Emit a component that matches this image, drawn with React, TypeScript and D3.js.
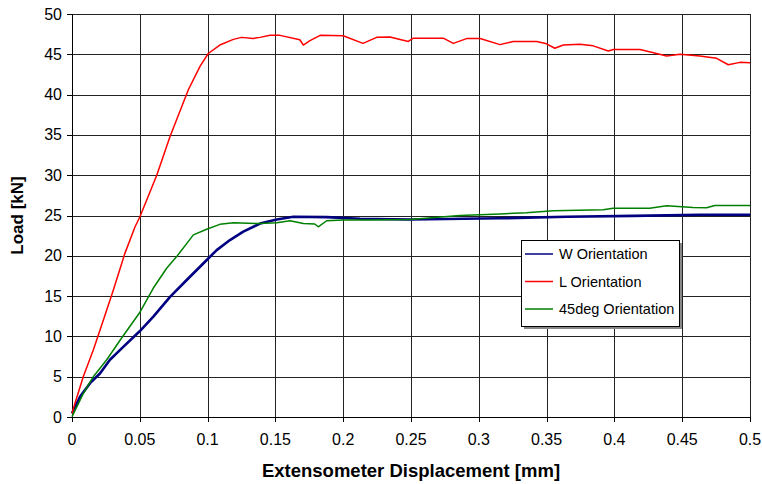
import * as d3 from "d3";

// displacement [mm] / load [kN]
const wX = [0, 0.0059, 0.0133, 0.0206, 0.028, 0.0378, 0.0497, 0.06, 0.0723, 0.0846, 0.0968, 0.1067, 0.1165, 0.1263, 0.1386, 0.151, 0.1632, 0.1878, 0.2124, 0.249, 0.3156, 0.3648, 0.414, 0.463, 0.5];
const wY = [0.45, 2.5, 4.2, 5.4, 7.1, 8.7, 10.6, 12.45, 14.9, 17.0, 19.05, 20.7, 21.95, 23.0, 24.0, 24.5, 24.85, 24.8, 24.6, 24.5, 24.65, 24.85, 24.95, 25.1, 25.1];

const lX = [0, 0.0022, 0.0083, 0.0157, 0.0231, 0.0305, 0.039, 0.0465, 0.0501, 0.0625, 0.0723, 0.0858, 0.0944, 0.1005, 0.109, 0.119, 0.125, 0.1337, 0.1386, 0.146, 0.1534, 0.168, 0.1706, 0.1755, 0.183, 0.2, 0.2146, 0.2247, 0.2345, 0.248, 0.2517, 0.2738, 0.2812, 0.291, 0.301, 0.3156, 0.3254, 0.3427, 0.35, 0.356, 0.3623, 0.3746, 0.3844, 0.3955, 0.3992, 0.4189, 0.4311, 0.4385, 0.4484, 0.463, 0.4754, 0.484, 0.4926, 0.5];
const lY = [0.45, 1.7, 5.0, 8.3, 12.0, 15.75, 20.3, 23.6, 24.85, 30.0, 34.8, 40.6, 43.5, 45.1, 46.15, 46.85, 47.1, 46.97, 47.1, 47.35, 47.35, 46.8, 46.15, 46.7, 47.35, 47.3, 46.35, 47.1, 47.15, 46.6, 47.0, 47.0, 46.35, 46.95, 46.95, 46.2, 46.6, 46.6, 46.3, 45.75, 46.15, 46.25, 46.05, 45.4, 45.6, 45.6, 45.1, 44.8, 45.0, 44.8, 44.5, 43.7, 44.0, 43.95];

const gX = [0, 0.0083, 0.0157, 0.0256, 0.0366, 0.0497, 0.06, 0.0698, 0.0772, 0.0895, 0.0993, 0.109, 0.119, 0.1386, 0.151, 0.1608, 0.1706, 0.179, 0.1816, 0.1878, 0.2, 0.2173, 0.249, 0.286, 0.3156, 0.335, 0.355, 0.3918, 0.399, 0.426, 0.4386, 0.458, 0.468, 0.474, 0.5];
const gY = [0.05, 2.9, 5.0, 7.1, 9.8, 12.9, 16.0, 18.45, 19.9, 22.6, 23.3, 23.9, 24.1, 24.0, 24.1, 24.35, 24.0, 23.95, 23.6, 24.35, 24.45, 24.45, 24.5, 25.0, 25.2, 25.35, 25.6, 25.7, 25.9, 25.9, 26.2, 26.0, 25.95, 26.25, 26.25];

const seriesNames = ["W Orientation", "L Orientation", "45deg Orientation"];
const seriesColors = ["#000080", "#ff0000", "#008000"];
const xTicks = [0, 0.05, 0.1, 0.15, 0.2, 0.25, 0.3, 0.35, 0.4, 0.45, 0.5];
const yTicks = [0, 5, 10, 15, 20, 25, 30, 35, 40, 45, 50];

const W = 762,
  H = 484;
const font = "'Liberation Sans', Arial, sans-serif";

export default function App() {
  const x = d3.scaleLinear().domain([0, 0.5]).range([72, 750]);
  const y = d3.scaleLinear().domain([0, 50]).range([417, 14]);
  const crisp = (v: number) => Math.round(v) + 0.5;

  const series = [
    { xs: wX, ys: wY, width: 2.6 },
    { xs: lX, ys: lY, width: 1.5 },
    { xs: gX, ys: gY, width: 1.5 },
  ];
  const line = d3
    .line<[number, number]>()
    .x((d) => x(d[0]))
    .y((d) => y(d[1]));

  const lg = { x: 521, y: 240, w: 158, h: 86 };

  return (
    <svg
      width={W}
      height={H}
      style={{ position: "absolute", left: 0, top: 0, background: "#fff" }}
      fontFamily={font}
    >
      {/* grid */}
      <g stroke="#222" strokeWidth={1}>
        {yTicks.slice(1).map((t) => (
          <line key={"h" + t} x1={x(0)} x2={x(0.5)} y1={crisp(y(t))} y2={crisp(y(t))} />
        ))}
        {xTicks.slice(1).map((t) => (
          <line key={"v" + t} x1={crisp(x(t))} x2={crisp(x(t))} y1={y(50)} y2={y(0)} />
        ))}
      </g>

      {/* axes */}
      <g stroke="#000" strokeWidth={1}>
        <line x1={crisp(x(0))} x2={crisp(x(0))} y1={y(50)} y2={y(0)} />
        <line x1={x(0)} x2={x(0.5) + 1} y1={crisp(y(0))} y2={crisp(y(0))} />
        {yTicks.map((t) => (
          <line key={"yt" + t} x1={x(0) - 5} x2={x(0)} y1={crisp(y(t))} y2={crisp(y(t))} />
        ))}
        {xTicks.map((t) => (
          <line key={"xt" + t} x1={crisp(x(t))} x2={crisp(x(t))} y1={y(0)} y2={y(0) + 5} />
        ))}
      </g>
      <g fontSize={16} fill="#000">
        {yTicks.map((t) => (
          <text key={"yl" + t} x={62} y={y(t)} textAnchor="end" dominantBaseline="central">
            {t}
          </text>
        ))}
        {xTicks.map((t) => (
          <text key={"xl" + t} x={x(t)} y={445} textAnchor="middle">
            {t}
          </text>
        ))}
      </g>

      {/* data */}
      <g fill="none" strokeLinejoin="round">
        {series.map((s, i) => (
          <path
            key={seriesNames[i]}
            d={line(s.xs.map((v, j) => [v, s.ys[j]] as [number, number])) || ""}
            stroke={seriesColors[i]}
            strokeWidth={s.width}
          />
        ))}
      </g>

      {/* titles */}
      <text x={411} y={477} textAnchor="middle" fontWeight="bold" fontSize={18.5}>
        Extensometer Displacement [mm]
      </text>
      <text
        transform={`translate(23,${y(25)}) rotate(-90)`}
        textAnchor="middle"
        fontWeight="bold"
        fontSize={17}
      >
        Load [kN]
      </text>

      {/* legend */}
      <g>
        <rect x={lg.x + 3} y={lg.y + 3} width={lg.w} height={lg.h} fill="#888" />
        <rect x={lg.x + 0.5} y={lg.y + 0.5} width={lg.w} height={lg.h} fill="#fff" stroke="#000" />
        {seriesNames.map((n, i) => {
          const ly = lg.y + 14 + i * 27.5;
          return (
            <g key={n}>
              <line x1={lg.x + 4} x2={lg.x + 32} y1={ly} y2={ly} stroke={seriesColors[i]} strokeWidth={1.5} />
              <text x={lg.x + 38} y={ly} dominantBaseline="central" fontSize={14.5}>
                {n}
              </text>
            </g>
          );
        })}
      </g>
    </svg>
  );
}
